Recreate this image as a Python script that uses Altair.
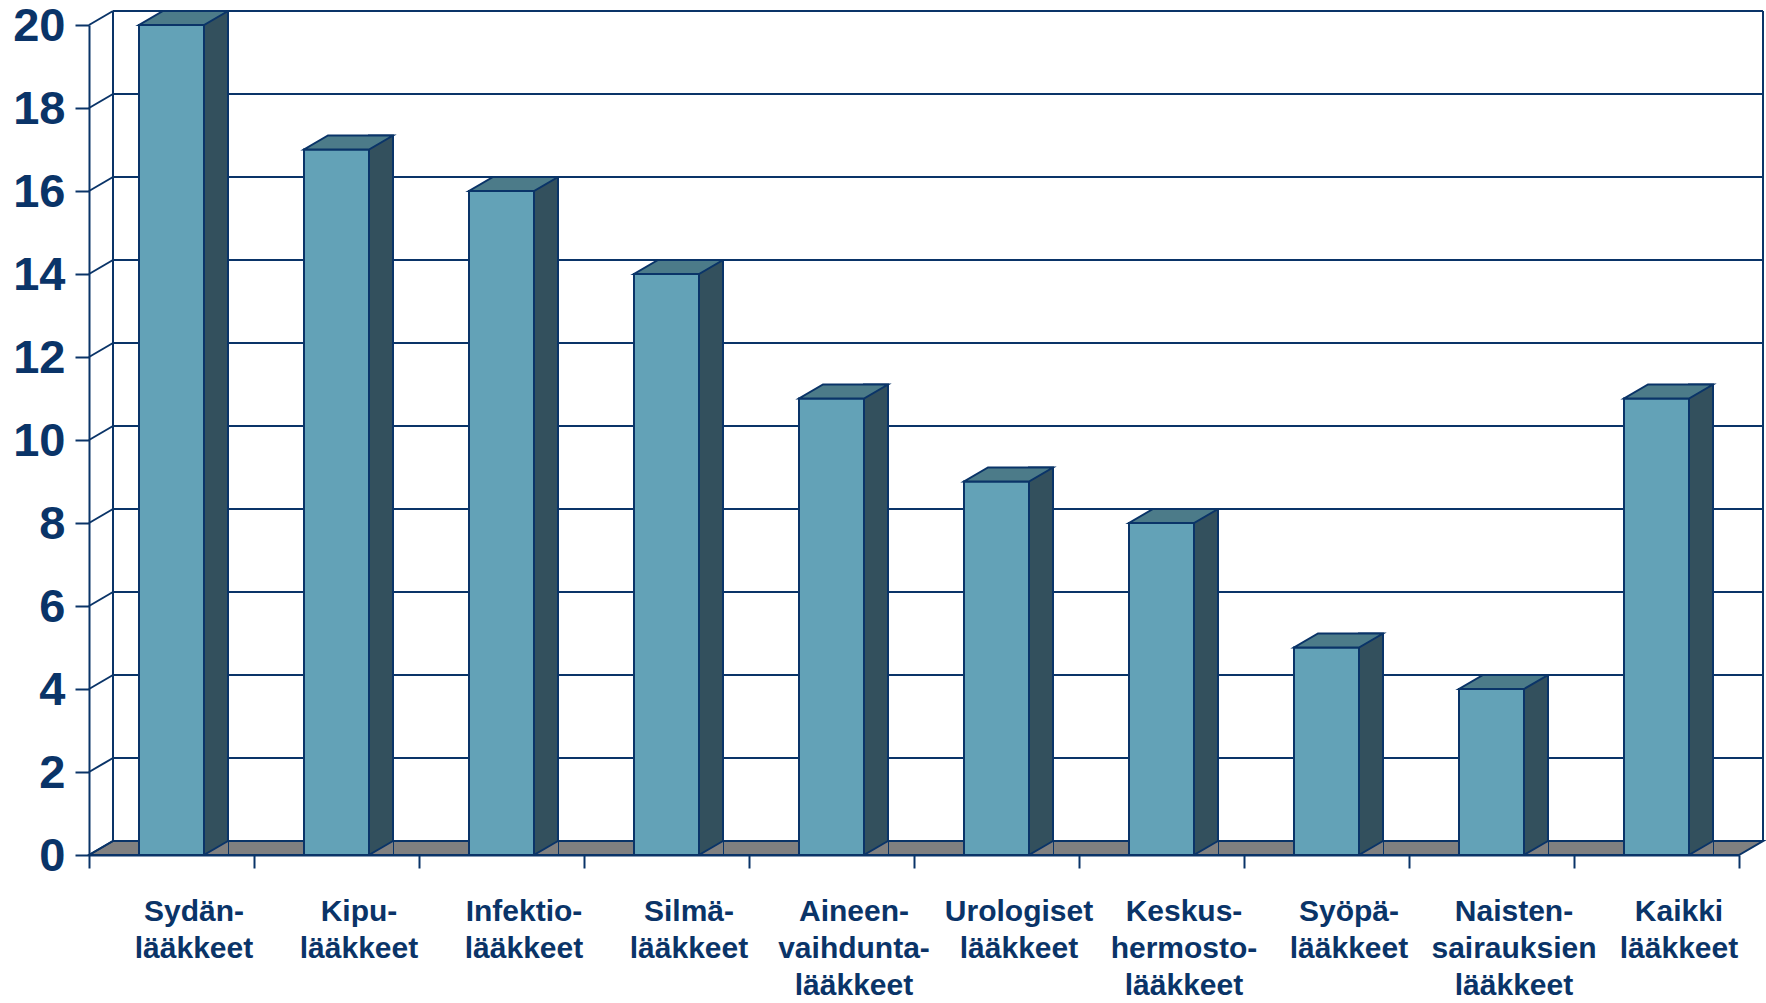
import altair as alt
import pandas as pd

categories = [
    "Sydän-|lääkkeet", "Kipu-|lääkkeet", "Infektio-|lääkkeet", "Silmä-|lääkkeet",
    "Aineen-|vaihdunta-|lääkkeet", "Urologiset|lääkkeet", "Keskus-|hermosto-|lääkkeet",
    "Syöpä-|lääkkeet", "Naisten-|sairauksien|lääkkeet", "Kaikki|lääkkeet",
]
values = [20, 17, 16, 14, 11, 9, 8, 5, 4, 11]
y_ticks = [0, 2, 4, 6, 8, 10, 12, 14, 16, 18, 20]

NAVY = "#0A3468"
FRONT = "#63A2B7"
SIDE = "#33505D"
TOP = "#4C7B89"
FLOOR = "#808080"

W, H = 1650, 830
DX, DY = 24, 14          # depth offsets (px)
BAR_W = 65

df = pd.DataFrame({"cat": categories, "value": values, "zero": [0] * len(values)})
ticks_df = pd.DataFrame({"v": y_ticks})
frame_df = pd.DataFrame({"lo": [0], "hi": [20]})

xscale = alt.Scale(domain=categories, paddingInner=0, paddingOuter=0)
yscale = alt.Scale(domain=[0, 20], nice=False, zero=True)

x_axis = alt.Axis(
    labelExpr="split(datum.label, '|')", labelAngle=0, labelFontSize=30,
    labelFont="Liberation Sans", labelFontWeight="bold", labelColor=NAVY,
    labelLineHeight=37, labelPadding=28, labelBaseline="top", labelOffset=22,
    labelLimit=0, labelOverlap=False, labelFlush=False, tickBand="extent",
    tickSize=13, tickWidth=2, tickColor=NAVY, domainColor=NAVY, domainWidth=2,
    grid=False, title=None,
)
y_axis = alt.Axis(
    values=y_ticks, labelFontSize=47, labelFont="Liberation Sans",
    labelFontWeight="bold", labelColor=NAVY, labelPadding=10, labelOffset=1,
    labelFlush=False, tickSize=14,
    tickWidth=2, tickColor=NAVY, domainColor=NAVY, domainWidth=2, grid=False,
    title=None,
)


def X():
    return alt.X("cat:N", sort=categories, scale=xscale, axis=x_axis)


def Y(field):
    return alt.Y(field, scale=yscale, axis=y_axis)


# floor parallelogram (custom symbol, scaled by sqrt(size)/2)
s = (W + DX) / 2
a = (W - s) / s
h = (DY / 2) / s
floor_path = f"M -1 {h:.6f} L {a:.6f} {h:.6f} L 1 {-h:.6f} L {-a:.6f} {-h:.6f} Z"
floor = alt.Chart(frame_df).mark_point(
    shape=floor_path, size=(W + DX) ** 2, filled=True, fill=FLOOR, stroke=NAVY,
    strokeWidth=2, opacity=1, yOffset=-DY / 2,
).encode(x=alt.value(s), y=Y("lo:Q"))

# back wall gridlines
grid = alt.Chart(ticks_df).mark_rule(color=NAVY, strokeWidth=2, yOffset=-DY).encode(
    y=Y("v:Q"), x=alt.value(DX), x2=alt.value(W + DX)
)
# left wall diagonals
diag = alt.Chart(ticks_df).mark_rule(color=NAVY, strokeWidth=2, y2Offset=-DY).encode(
    y=Y("v:Q"), y2="v:Q", x=alt.value(0), x2=alt.value(DX)
)
# back wall verticals
vleft = alt.Chart(frame_df).mark_rule(color=NAVY, strokeWidth=2, yOffset=-DY, y2Offset=-DY).encode(
    y=Y("lo:Q"), y2="hi:Q", x=alt.value(DX)
)
vright = alt.Chart(frame_df).mark_rule(color=NAVY, strokeWidth=2, yOffset=-DY, y2Offset=-DY).encode(
    y=Y("lo:Q"), y2="hi:Q", x=alt.value(W + DX)
)

side_off = BAR_W / 2 + DX / 2
side = alt.Chart(df).mark_bar(
    width=DX, xOffset=side_off, yOffset=-DY, color=SIDE, stroke=NAVY, strokeWidth=2
).encode(x=X(), y=Y("value:Q"), y2="zero:Q")

tri_path = f"M 1 {DY/DX:.6f} L -1 {DY/DX:.6f} L 1 {-DY/DX:.6f}"
tri = alt.Chart(df).mark_point(
    shape=tri_path, size=DX ** 2, filled=True, fill=FLOOR, stroke=NAVY, strokeWidth=2,
    opacity=1, xOffset=side_off, yOffset=-DY / 2,
).encode(x=X(), y=Y("zero:Q"))

front = alt.Chart(df).mark_bar(width=BAR_W, color=FRONT, stroke=NAVY, strokeWidth=2).encode(
    x=X(), y=Y("value:Q"),
)

tw = (BAR_W + DX) / 2
tx = (BAR_W - tw) / tw
th = (DY / 2) / tw
top_path = f"M -1 {th:.6f} L {tx:.6f} {th:.6f} L 1 {-th:.6f} L {-tx:.6f} {-th:.6f} Z"
top = alt.Chart(df).mark_point(
    shape=top_path, size=(BAR_W + DX) ** 2, filled=True, fill=TOP, stroke=NAVY,
    strokeWidth=2, opacity=1, xOffset=DX / 2, yOffset=-DY / 2,
).encode(x=X(), y=Y("value:Q"))

chart = alt.layer(floor, grid, diag, vleft, vright, side, tri, front, top).properties(
    width=W, height=H,
    padding={"left": 89, "top": 25, "right": 1766 - 89 - W, "bottom": 1003 - 25 - H},
    autosize=alt.AutoSizeParams(type="none"),
    background="white",
).configure_view(stroke=None)

chart.save("out.html", embed_options={"renderer": "svg", "actions": False})
